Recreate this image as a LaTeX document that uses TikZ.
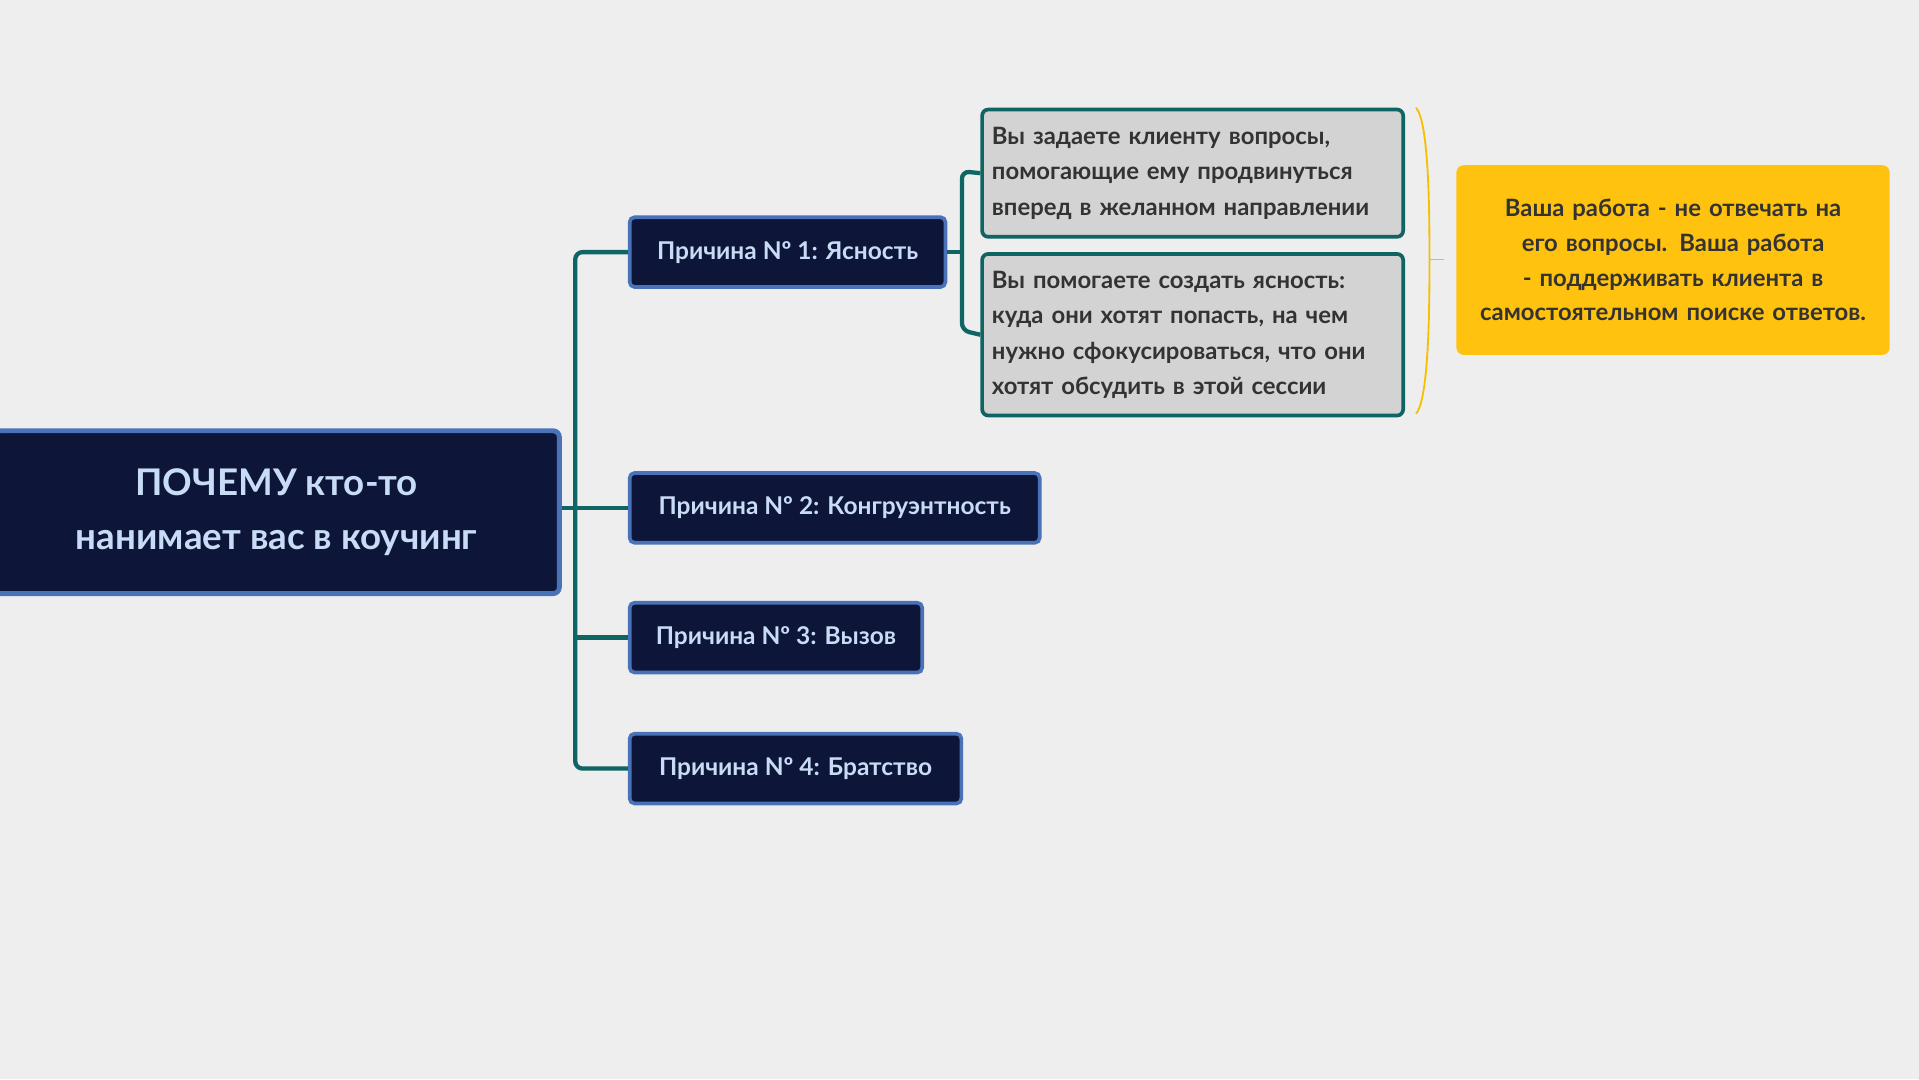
\documentclass[tikz,border=0pt]{standalone}
\usepackage{fontspec}
\setmainfont{Lato}
\definecolor{bg}{HTML}{EEEEEE}
\definecolor{navy}{HTML}{0D1539}
\definecolor{rim}{HTML}{4A72B8}
\definecolor{lt}{HTML}{C8DCF5}
\definecolor{teal}{HTML}{0F6464}
\definecolor{gr}{HTML}{D3D3D3}
\definecolor{txt}{HTML}{333333}
\definecolor{yel}{HTML}{FFC20E}
\definecolor{yl}{HTML}{F5C000}
\begin{document}
\begin{tikzpicture}[x=1pt,y=-1pt,
  reason/.style={draw=rim,line width=3pt,fill=navy,rounded corners=4pt,text=lt,font=\fontsize{20}{24}\selectfont\bfseries,anchor=west,minimum height=57pt,inner xsep=20pt},
  grbox/.style={draw=teal,line width=3pt,fill=gr,rounded corners=5pt,text=txt,font=\fontsize{19.5}{29}\selectfont\bfseries,anchor=north west,align=left,inner xsep=8pt,text width=328pt,inner ysep=5pt},
  link/.style={teal,line width=3.5pt,rounded corners=6pt}]
\fill[bg] (0,0) rectangle (1568,882);
\useasboundingbox (0,0) rectangle (1568,882);
\node[draw=rim,line width=4pt,fill=navy,rounded corners=5pt,minimum width=462pt,minimum height=133pt,text=lt,font=\fontsize{30}{44}\selectfont\bfseries,align=center] (root) at (226,418.5) {ПОЧЕМУ кто-то\\нанимает вас в коучинг};
\node[reason,minimum width=258pt] (r1) at (513,206) {Причина Nº 1: Ясность};
\node[reason,minimum width=335pt] (r2) at (513,415) {Причина Nº 2: Конгруэнтность};
\node[reason,minimum width=239pt] (r3) at (513,521) {Причина Nº 3: Вызов};
\node[reason,minimum width=271pt] (r4) at (513,628) {Причина Nº 4: Братство};
\coordinate (t) at (470,415);
\draw[link] (root.east|-t) -- (t);
\draw[link] (r1.west) -- (470,206) -- (470,628) -- (r4.west);
\draw[link] (470,415) -- (r2.west);
\draw[link] (470,521) -- (r3.west);
\node[grbox,minimum height=104pt] (g1) at (801,88) {Вы задаете клиенту вопросы, помогающие ему продвинуться вперед в желанном направлении};
\node[grbox,minimum height=132pt] (g2) at (801,206) {Вы помогаете создать ясность: куда они хотят попасть, на чем нужно сфокусироваться, что они хотят обсудить в этой сессии};
\draw[link] (r1.east) -- (786,206);
\draw[link] (g1.west) -- (786,140) -- (786,270) -- (g2.west);
\draw[yl,line width=1.5pt] (1157,88) .. controls (1168,100) and (1168,180) .. (1168,212) .. controls (1168,244) and (1168,326) .. (1157,338);
\draw[yl,line width=1.5pt] (1168,212) -- (1180,212);
\node[fill=yel,rounded corners=6pt,minimum width=354pt,minimum height=155pt,text=txt,align=center,text width=340pt,font=\fontsize{19.5}{28.5}\selectfont\bfseries] (y) at (1367,212.5) {Ваша работа - не отвечать на его вопросы. Ваша работа - поддерживать клиента в самостоятельном поиске ответов.};
\end{tikzpicture}
\end{document}
